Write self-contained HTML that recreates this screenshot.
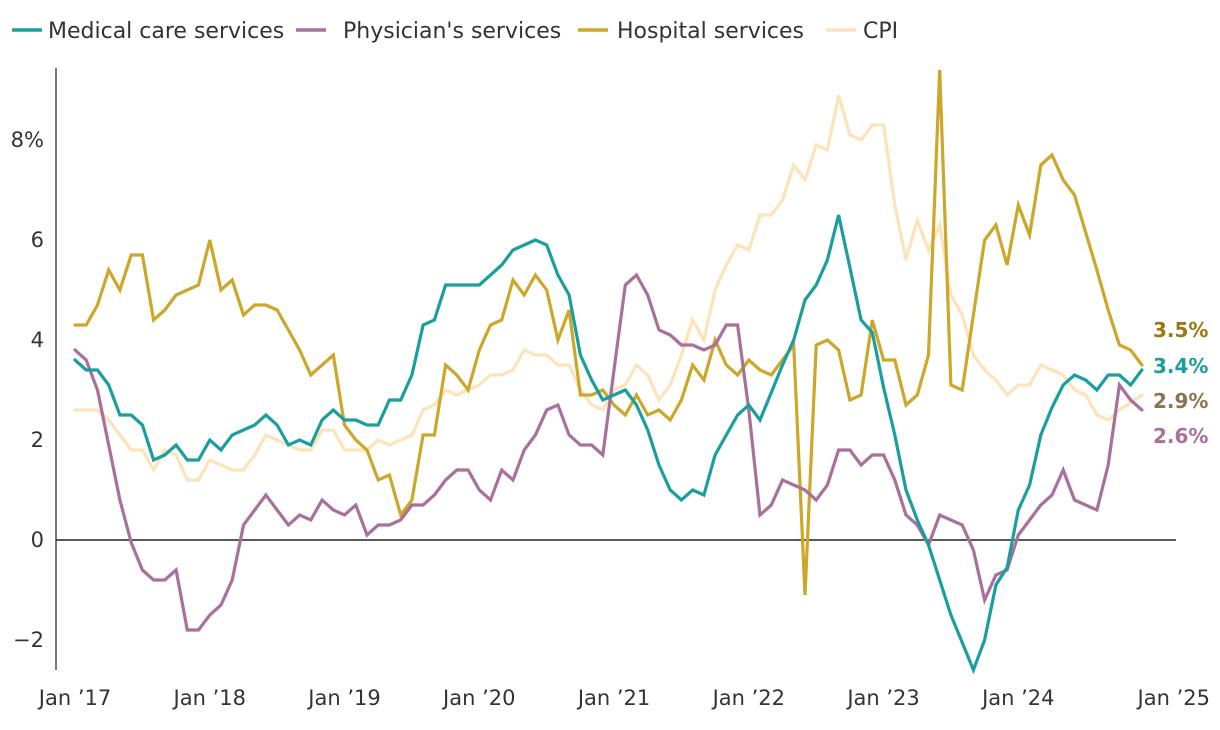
<!DOCTYPE html>
<html><head><meta charset="utf-8"><style>
body{margin:0;background:#fff;font-family:"DejaVu Sans",sans-serif}
svg text{font-family:"DejaVu Sans","Liberation Sans",sans-serif}
</style></head><body>
<svg id="chart" width="1220" height="726" viewBox="0 0 1220 726">
<g id="legend"></g>
<g id="grid"></g>
<g id="series"></g>
<g id="labels"></g>
</svg>
<script>
const seriesNames = ["Medical care services","Physician's services","Hospital services","CPI"];
const medical = [3.6,3.4,3.4,3.1,2.5,2.5,2.3,1.6,1.7,1.9,1.6,1.6,2.0,1.8,2.1,2.2,2.3,2.5,2.3,1.9,2.0,1.9,2.4,2.6,2.4,2.4,2.3,2.3,2.8,2.8,3.3,4.3,4.4,5.1,5.1,5.1,5.1,5.3,5.5,5.8,5.9,6.0,5.9,5.3,4.9,3.7,3.2,2.8,2.9,3.0,2.7,2.2,1.5,1.0,0.8,1.0,0.9,1.7,2.1,2.5,2.7,2.4,2.95,3.5,4.0,4.8,5.1,5.6,6.5,5.45,4.4,4.15,3.05,2.1,1.0,0.4,-0.1,-0.8,-1.5,-2.05,-2.6,-2.0,-0.9,-0.55,0.6,1.1,2.1,2.65,3.1,3.3,3.2,3.0,3.3,3.3,3.1,3.4];
const physician = [3.8,3.6,3.0,1.9,0.8,-0.05,-0.6,-0.8,-0.8,-0.6,-1.8,-1.8,-1.5,-1.3,-0.8,0.3,0.6,0.9,0.6,0.3,0.5,0.4,0.8,0.6,0.5,0.7,0.1,0.3,0.3,0.4,0.7,0.7,0.9,1.2,1.4,1.4,1.0,0.8,1.4,1.2,1.8,2.1,2.6,2.7,2.1,1.9,1.9,1.7,3.4,5.1,5.3,4.9,4.2,4.1,3.9,3.9,3.8,3.9,4.3,4.3,2.6,0.5,0.7,1.2,1.1,1.0,0.8,1.1,1.8,1.8,1.5,1.7,1.7,1.2,0.5,0.3,-0.1,0.5,0.4,0.3,-0.2,-1.2,-0.7,-0.6,0.1,0.4,0.7,0.9,1.4,0.8,0.7,0.6,1.5,3.1,2.8,2.6];
const hospital = [4.3,4.3,4.7,5.4,5.0,5.7,5.7,4.4,4.6,4.9,5.0,5.1,6.0,5.0,5.2,4.5,4.7,4.7,4.6,4.2,3.8,3.3,3.5,3.7,2.3,2.0,1.8,1.2,1.3,0.5,0.8,2.1,2.1,3.5,3.3,3.0,3.8,4.3,4.4,5.2,4.9,5.3,5.0,4.0,4.6,2.9,2.9,3.0,2.7,2.5,2.9,2.5,2.6,2.4,2.8,3.5,3.2,4.0,3.5,3.3,3.6,3.4,3.3,3.6,3.9,-1.1,3.9,4.0,3.8,2.8,2.9,4.4,3.6,3.6,2.7,2.9,3.7,9.4,3.1,3.0,4.5,6.0,6.3,5.5,6.7,6.1,7.5,7.7,7.2,6.9,6.15,5.4,4.6,3.9,3.8,3.5];
const cpi = [2.6,2.6,2.6,2.4,2.1,1.8,1.8,1.4,1.8,1.7,1.2,1.2,1.6,1.5,1.4,1.4,1.7,2.1,2.0,1.9,1.8,1.8,2.2,2.2,1.8,1.8,1.8,2.0,1.9,2.0,2.1,2.6,2.7,3.0,2.9,3.0,3.1,3.3,3.3,3.4,3.8,3.7,3.7,3.5,3.5,3.0,2.7,2.6,3.0,3.1,3.5,3.3,2.8,3.1,3.7,4.4,4.0,5.0,5.5,5.9,5.8,6.5,6.5,6.8,7.5,7.2,7.9,7.8,8.9,8.1,8.0,8.3,8.3,6.7,5.6,6.4,5.8,6.3,4.9,4.5,3.7,3.4,3.2,2.9,3.1,3.1,3.5,3.4,3.3,3.0,2.9,2.5,2.4,2.6,2.75,2.9];
const yTicks = [-2,0,2,4,6,8];
const xTickLabels = ["Jan \u201917","Jan \u201918","Jan \u201919","Jan \u201920","Jan \u201921","Jan \u201922","Jan \u201923","Jan \u201924","Jan \u201925"];
const endLabels = ["3.4%","2.6%","3.5%","2.9%"];

const NS="http://www.w3.org/2000/svg";
const colors=["#1a9e9f","#a8709b","#cda72a","#fde3b9"];
const labelColors=["#1a9e9f","#a8709b","#9a7a10","#8a7550"];
const X0=75, DX=11.23;
const x=i=>X0+i*DX;
const y=v=>540-v*50;
function mk(tag,attrs,parent){const e=document.createElementNS(NS,tag);for(const k in attrs)e.setAttribute(k,attrs[k]);parent.appendChild(e);return e;}
const grid=document.getElementById('grid');
let ax=mk('line',{x1:56,y1:68,x2:56,y2:670,stroke:'#222','stroke-width':1.2},grid);


let zl=mk('line',{x1:56,y1:y(0),x2:1176,y2:y(0),stroke:'#222','stroke-width':1.5},grid);


yTicks.forEach(v=>{
  const t=mk('text',{x:44,y:y(v)+7,'text-anchor':'end','font-size':21,fill:'#333'},grid);
  
  
  t.textContent=v===8?'8%':(v<0?'\u2212'+(-v):String(v));
});
xTickLabels.forEach((s,k)=>{
  let cx=x(k*12); let anchor='middle';
  if(k===xTickLabels.length-1){cx=1210;anchor='end';}
  const t=mk('text',{x:cx,y:705,'text-anchor':anchor,'font-size':21,fill:'#333'},grid);
  
  
  t.textContent=s;
});
const sg=document.getElementById('series');
[3,2,1,0].forEach(si=>{
  const arr=[medical,physician,hospital,cpi][si];
  const d=arr.map((v,i)=>(i?'L':'M')+x(i).toFixed(1)+','+y(v).toFixed(1)).join('');
  const p=mk('path',{d:d,fill:'none',stroke:colors[si],'stroke-width':3.2,'stroke-linejoin':'miter','stroke-linecap':'round'},sg);
  
  
});
const lg=document.getElementById('labels');
const ly=[373,443,337,408];
endLabels.forEach((s,i)=>{
  const t=mk('text',{x:1153,y:ly[i],'font-size':20,'font-weight':'bold',fill:labelColors[i]},lg);
  
  
  t.textContent=s;
});
const leg=document.getElementById('legend');
const swX=[12,296,578,826], txX=[48,343,617,863];
seriesNames.forEach((s,i)=>{
  const l=mk('line',{x1:swX[i],y1:30,x2:swX[i]+30,y2:30,stroke:colors[i],'stroke-width':3.5},leg);
  
  
  const t=mk('text',{x:txX[i],y:38,'font-size':22,fill:'#333'},leg);
  
  
  t.textContent=s;
});
</script>
</body></html>
